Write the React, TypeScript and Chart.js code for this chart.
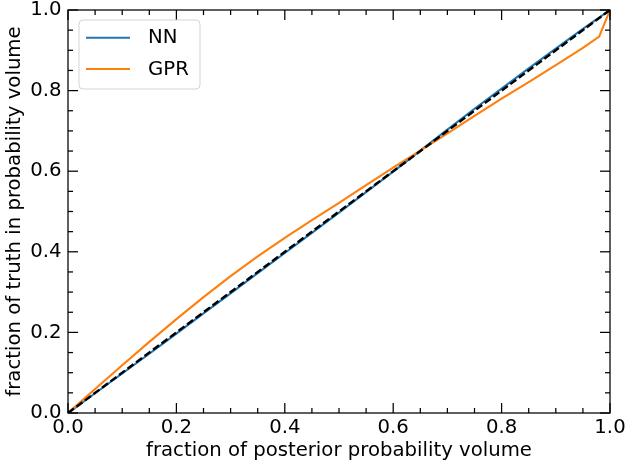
import React, { useEffect, useRef } from "react";
import { Chart, registerables } from "chart.js";

Chart.register(...registerables);

// ---- data ----
const nnLevels = [0, 0.05, 0.1, 0.15, 0.2, 0.25, 0.3, 0.35, 0.4, 0.45, 0.5, 0.55, 0.6, 0.65, 0.7, 0.75, 0.8, 0.85, 0.9, 0.95, 1.0];
const nnFraction = [0, 0.049, 0.098, 0.147, 0.197, 0.247, 0.297, 0.347, 0.397, 0.447, 0.497, 0.548, 0.599, 0.651, 0.703, 0.755, 0.805, 0.855, 0.904, 0.953, 1.0];

const gprLevels = [0, 0.05, 0.1, 0.15, 0.2, 0.25, 0.3, 0.35, 0.4, 0.45, 0.5, 0.55, 0.6, 0.65, 0.7, 0.75, 0.8, 0.85, 0.9, 0.95, 0.98, 1.0];
const gprFraction = [0, 0.0595, 0.1185, 0.1765, 0.233, 0.2875, 0.3395, 0.3885, 0.4345, 0.4785, 0.5215, 0.5655, 0.609, 0.651, 0.694, 0.7375, 0.78, 0.821, 0.863, 0.906, 0.934, 1.0];

const diagLevels = [0, 1];
const diagFraction = [0, 1];

const majorTicks = [0, 0.2, 0.4, 0.6, 0.8, 1.0];
const minorTicks = [0.05, 0.1, 0.15, 0.25, 0.3, 0.35, 0.45, 0.5, 0.55, 0.65, 0.7, 0.75, 0.85, 0.9, 0.95];

const xTitle = "fraction of posterior probability volume";
const yTitle = "fraction of truth in probability volume";
const seriesNames = ["NN", "GPR"];
const seriesColors = ["#1f77b4", "#ff7f0e"];

const FONT = "DejaVu Sans";
const FS = 19.7;

const pts = (xs: number[], ys: number[]) => xs.map((x, i) => ({ x, y: ys[i] }));

const frameTicks = {
  id: "frameTicks",
  afterDatasetsDraw(chart: any) {
    const { ctx, chartArea, scales } = chart;
    const { left, right, top, bottom } = chartArea;
    const xs = scales.x;
    const ys = scales.y;
    ctx.save();
    ctx.strokeStyle = "#000";
    ctx.lineWidth = 1.25;
    const seg = (x1: number, y1: number, x2: number, y2: number) => {
      ctx.beginPath();
      ctx.moveTo(x1, y1);
      ctx.lineTo(x2, y2);
      ctx.stroke();
    };
    const drawSet = (vals: number[], len: number) => {
      vals.forEach((v) => {
        const px = xs.getPixelForValue(v);
        seg(px, bottom, px, bottom - len);
        seg(px, top, px, top + len);
        const py = ys.getPixelForValue(v);
        seg(left, py, left + len, py);
        seg(right, py, right - len, py);
      });
    };
    drawSet(majorTicks, 10);
    drawSet(minorTicks, 5);
    ctx.strokeRect(left, top, right - left, bottom - top);
    ctx.restore();
  },
};

const innerLegend = {
  id: "innerLegend",
  afterDraw(chart: any) {
    const { ctx, chartArea } = chart;
    const bx = chartArea.left + 11;
    const by = chartArea.top + 10;
    const bw = 121;
    const bh = 69;
    ctx.save();
    ctx.fillStyle = "rgba(255,255,255,0.8)";
    ctx.strokeStyle = "#d3d3d3";
    ctx.lineWidth = 1;
    ctx.beginPath();
    (ctx as any).roundRect(bx, by, bw, bh, 4);
    ctx.fill();
    ctx.stroke();
    ctx.font = `${FS}px "${FONT}"`;
    ctx.textBaseline = "middle";
    ctx.textAlign = "left";
    seriesNames.forEach((name, i) => {
      const cy = by + 17.7 + i * 31.3;
      ctx.strokeStyle = seriesColors[i];
      ctx.lineWidth = 2.1;
      ctx.beginPath();
      ctx.moveTo(bx + 7, cy);
      ctx.lineTo(bx + 51, cy);
      ctx.stroke();
      ctx.fillStyle = "#000";
      ctx.fillText(name, bx + 69, cy + 0.5);
    });
    ctx.restore();
  },
};

const zeroPad = (s: any) => {
  s.paddingLeft = 0;
  s.paddingRight = 0;
  s.paddingTop = 0;
  s.paddingBottom = 0;
};

export default function App() {
  const ref = useRef<HTMLCanvasElement | null>(null);

  useEffect(() => {
    if (!ref.current) return;
    const chart = new Chart(ref.current, {
      type: "line",
      data: {
        datasets: [
          {
            label: "diagonal",
            data: pts(diagLevels, diagFraction),
            borderColor: "#000",
            borderWidth: 2.4,
            borderDash: [7.4, 3.2],
            pointRadius: 0,
            order: 0,
          },
          {
            label: seriesNames[0],
            data: pts(nnLevels, nnFraction),
            borderColor: seriesColors[0],
            borderWidth: 2.1,
            pointRadius: 0,
            order: 2,
          },
          {
            label: seriesNames[1],
            data: pts(gprLevels, gprFraction),
            borderColor: seriesColors[1],
            borderWidth: 2.1,
            pointRadius: 0,
            order: 1,
          },
        ],
      },
      options: {
        animation: false,
        responsive: false,
        devicePixelRatio: 1,
        layout: { padding: { top: 10, right: 16, bottom: 0, left: 0 } },
        plugins: { legend: { display: false }, tooltip: { enabled: false } },
        elements: { line: { tension: 0 } },
        scales: {
          x: {
            type: "linear",
            min: 0,
            max: 1,
            grid: { display: false, drawTicks: false, tickLength: 0 },
            border: { display: false },
            afterBuildTicks: (s: any) => {
              s.ticks = majorTicks.map((v) => ({ value: v }));
            },
            afterFit: (s: any) => {
              s.height = 51;
              zeroPad(s);
            },
            ticks: {
              padding: 5.5,
              color: "#000",
              maxRotation: 0,
              font: { family: FONT, size: FS, lineHeight: 1.0 },
              callback: (v: any) => Number(v).toFixed(1),
            },
            title: {
              display: true,
              text: xTitle,
              color: "#000",
              font: { family: FONT, size: FS, lineHeight: 1.2 },
              padding: { top: 0, bottom: 1.3 },
            },
          },
          y: {
            type: "linear",
            min: 0,
            max: 1,
            grid: { display: false, drawTicks: false, tickLength: 0 },
            border: { display: false },
            afterBuildTicks: (s: any) => {
              s.ticks = majorTicks.map((v) => ({ value: v }));
            },
            afterFit: (s: any) => {
              s.width = 68;
              zeroPad(s);
            },
            ticks: {
              padding: 6.5,
              color: "#000",
              font: { family: FONT, size: FS, lineHeight: 1.0 },
              callback: (v: any) => Number(v).toFixed(1),
            },
            title: {
              display: true,
              text: yTitle,
              color: "#000",
              font: { family: FONT, size: FS, lineHeight: 1.2 },
              padding: { top: 3.3, bottom: 0 },
            },
          },
        },
      },
      plugins: [frameTicks, innerLegend],
    });
    return () => chart.destroy();
  }, []);

  return (
    <div style={{ position: "fixed", left: 0, top: 0, width: 626, height: 464, background: "#fff" }}>
      <canvas ref={ref} width={626} height={464} style={{ display: "block" }} />
    </div>
  );
}
